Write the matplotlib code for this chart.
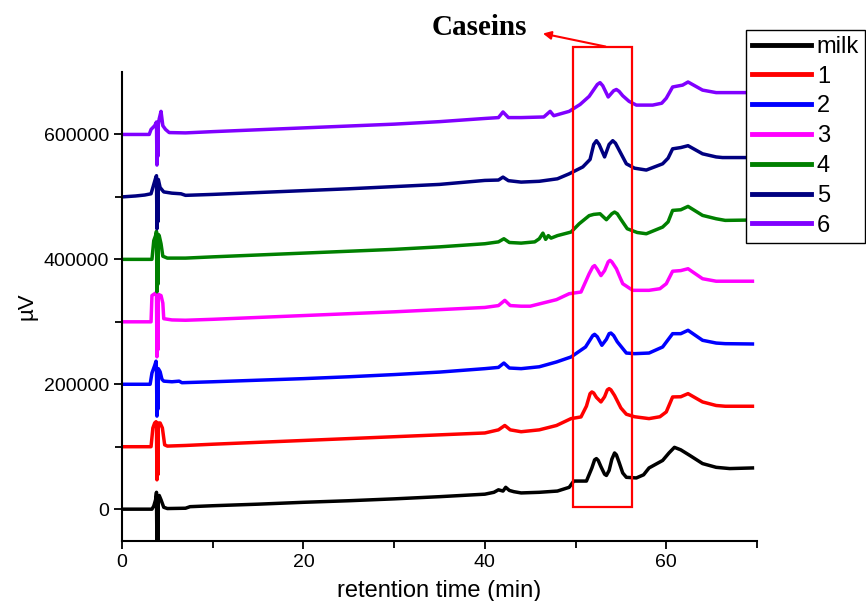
import numpy as np
import matplotlib
matplotlib.use('Agg')
import matplotlib.pyplot as plt
from matplotlib.patches import Rectangle

plt.rcParams['font.family'] = ['Liberation Sans', 'DejaVu Sans']

# chromatogram traces as (retention time [min], signal [uV]),
# signal is relative to each trace's own baseline offset
labels = ['milk', '1', '2', '3', '4', '5', '6']
offsets = [0, 100000, 200000, 300000, 400000, 500000, 600000]
colors = ['#000000', '#ff0000', '#0000ff', '#ff00ff', '#008000', '#000080', '#8000ff']

milk = [(0, 0), (3.3, 0), (3.5, 5000), (3.7, 15000), (3.8, 27000), (3.85, -70000), (3.9, 20000),
        (3.95, -60000), (4.0, 12000), (4.1, 22000), (4.3, 15000), (4.6, 3000), (5, 1000), (7, 1500),
        (7.5, 4000), (10, 5500), (15, 8000), (20, 11000), (25, 13500), (30, 16500), (35, 20000),
        (40, 24000), (41, 27000), (41.5, 31000), (42, 29000), (42.3, 35000), (42.7, 30000),
        (43.2, 28000), (44, 26000), (46, 27000), (48, 29000), (49.3, 35000), (49.8, 45000),
        (51.2, 45000), (51.8, 66000), (52.1, 79000), (52.3, 81000), (52.5, 78000), (52.8, 68000),
        (53.2, 56000), (53.4, 54000), (53.7, 62000), (54.0, 80000), (54.3, 90000), (54.5, 87000),
        (54.8, 75000), (55.2, 58000), (55.6, 51000), (56.7, 50000), (57.5, 55000), (58.1, 66000),
        (59.6, 78000), (60.3, 90000), (60.9, 99000), (61.6, 95000), (62.6, 86000), (64.0, 73000),
        (65.5, 67000), (67, 65000), (69.5, 66000)]

s1 = [(0, 0), (3.2, 0), (3.4, 30000), (3.6, 38000), (3.75, 40000), (3.8, 32000), (3.85, -53000),
      (3.9, 30000), (3.95, -45000), (4.0, 38000), (4.2, 38000), (4.45, 30000), (4.7, 3000), (5, 1000),
      (7, 2000), (10, 4000), (15, 7000), (20, 10000), (25, 13000), (30, 16000), (35, 19000),
      (40, 22000), (41.5, 27000), (42.2, 34000), (42.8, 27000), (44, 24000), (46, 27000),
      (47.9, 34000), (49.5, 45000), (50.6, 47700), (51.2, 65000), (51.6, 85000), (51.8, 87700),
      (52.0, 86000), (52.3, 79000), (52.8, 71700), (53.2, 80000), (53.5, 91000), (53.7, 93000),
      (53.9, 91000), (54.3, 82000), (55.0, 62000), (55.6, 52000), (56.5, 48000), (58.1, 45000),
      (59.3, 48000), (60.0, 55700), (60.7, 79700), (61.6, 80000), (62.4, 85000), (64.0, 71700),
      (65.5, 66000), (66.5, 64800), (69.5, 64800)]

s2 = [(0, 0), (3.1, 0), (3.3, 18000), (3.6, 30000), (3.75, 37000), (3.8, 25000), (3.85, -51000),
      (3.9, 20000), (3.95, -40000), (4.0, 25000), (4.2, 20000), (4.4, 8000), (4.6, 5000), (5.5, 4000),
      (6.3, 5000), (6.6, 2500), (10, 4000), (15, 6500), (20, 9000), (25, 12000), (30, 15500),
      (35, 19500), (40, 25000), (41.5, 27000), (42.1, 34000), (42.7, 26000), (44, 25000),
      (46, 28000), (47.9, 35700), (49.5, 43700), (51.1, 59700), (51.9, 78000), (52.1, 80000),
      (52.4, 76000), (52.9, 62400), (53.4, 72000), (53.7, 81000), (53.9, 82000), (54.2, 78000),
      (54.6, 68000), (55.6, 50000), (56.5, 49000), (58.1, 50000), (59.6, 59700), (60.7, 81000),
      (61.6, 81000), (62.4, 86400), (64, 70400), (65.5, 66000), (66.5, 65000), (69.5, 64500)]

s3 = [(0, 0), (3.2, 0), (3.3, 42000), (3.7, 46000), (3.8, 44000), (3.85, -56000), (3.9, 40000),
      (3.95, -45000), (4.0, 44000), (4.3, 42000), (4.5, 30000), (4.6, 5000), (5.5, 3000), (7, 2500),
      (10, 4000), (15, 7000), (20, 10000), (25, 13000), (30, 16000), (35, 19500), (40, 23000),
      (41.5, 26000), (42.2, 34400), (42.8, 26000), (44, 25000), (45, 25000), (47.9, 35500),
      (49.3, 45000), (50.6, 47700), (51.5, 77000), (51.9, 88000), (52.1, 90000), (52.4, 84000),
      (52.8, 74000), (53.2, 82000), (53.6, 96000), (53.8, 98400), (54.0, 96000), (54.5, 85000),
      (55.2, 61000), (56.3, 50400), (58.1, 50400), (59.3, 53000), (60.0, 61000), (60.7, 81000),
      (61.6, 82000), (62.4, 85000), (64, 69000), (65.5, 65000), (66.5, 65000), (69.5, 65000)]

s4 = [(0, 0), (3.3, 0), (3.5, 30000), (3.7, 38000), (3.8, 45000), (3.85, -52000), (3.9, 35000),
      (3.95, -40000), (4.0, 40000), (4.1, 38000), (4.3, 25000), (4.5, 5000), (5, 2000), (7, 2000),
      (10, 4000), (15, 7000), (20, 10000), (25, 13000), (30, 16000), (35, 20000), (40, 25000),
      (41.5, 28000), (42.1, 33000), (42.7, 27000), (44, 26000), (45.5, 28000), (46.0, 33000),
      (46.4, 42000), (46.7, 32000), (47.0, 38000), (47.3, 34000), (48, 38000), (49.5, 43700),
      (50.4, 57000), (51.5, 70000), (52.0, 72000), (52.7, 73000), (53.4, 63500), (54.0, 73000),
      (54.3, 75700), (54.6, 73000), (55.0, 64000), (55.7, 49000), (56.8, 43000), (57.8, 41000),
      (59.6, 51700), (60.2, 60000), (60.7, 78400), (61.6, 79400), (62.4, 84800), (64, 70400),
      (65.5, 65000), (66.5, 62400), (69.5, 63000)]

s5 = [(0, 0), (1.5, 1500), (2.5, 3000), (3.2, 5000), (3.5, 20000), (3.7, 30000), (3.8, 34000),
      (3.85, -51000), (3.9, 25000), (3.95, -40000), (4.0, 28000), (4.2, 15000), (4.6, 8000),
      (5.5, 6000), (6.5, 5000), (7, 2500), (10, 4000), (15, 7000), (20, 10000), (25, 13000),
      (30, 16500), (35, 20000), (40, 26400), (41.5, 27000), (42.0, 31700), (42.6, 26000),
      (44, 23700), (46, 25000), (48, 29000), (49.3, 37000), (50.8, 48000), (51.6, 60000),
      (52.0, 84000), (52.3, 90000), (52.6, 84000), (53.2, 64000), (53.7, 84000), (54.1, 90000),
      (54.4, 86000), (54.8, 75000), (55.6, 53000), (56.5, 46000), (57.8, 43000), (59.6, 53000),
      (60.2, 62000), (60.7, 77000), (61.6, 79000), (62.4, 82000), (64, 69000), (65.5, 64000),
      (66.2, 63000), (69.5, 63000)]

s6 = [(0, 0), (3.0, 0), (3.2, 8000), (3.6, 14000), (3.8, 20000), (3.85, -49000), (3.9, 15000),
      (3.95, -35000), (4.0, 15000), (4.1, 25000), (4.3, 37000), (4.5, 14000), (4.8, 8000),
      (5.2, 3000), (7, 2500), (10, 4500), (15, 7500), (20, 10500), (25, 13500), (30, 16500),
      (35, 20500), (40, 25600), (41.5, 27000), (42.0, 36000), (42.6, 27000), (44, 27000),
      (46.5, 28000), (47.2, 37000), (47.6, 30000), (49.3, 37000), (50.5, 48000), (51.5, 61000),
      (52.4, 80000), (52.7, 83000), (53.0, 78000), (53.6, 60000), (54.2, 70000), (54.5, 72000),
      (54.8, 69000), (55.2, 62000), (55.9, 53000), (56.7, 47000), (58.5, 47000), (59.5, 50000),
      (60.0, 58000), (60.7, 76000), (61.8, 79000), (62.4, 84000), (64, 71000), (65.5, 67000),
      (66.5, 67000), (69.5, 67000)]

traces = [milk, s1, s2, s3, s4, s5, s6]

fig = plt.figure(figsize=(8.66, 6.01), dpi=100)
ax = fig.add_axes([0.1409, 0.0998, 0.7332, 0.7804])

for pts, off, col, lab in zip(traces, offsets, colors, labels):
    arr = np.array(pts, dtype=float)
    ax.plot(arr[:, 0], arr[:, 1] + off, color=col, lw=2.5, label=lab)

ax.set_xlim(0, 70)
ax.set_ylim(-51000, 700000)
ax.set_xticks([0, 20, 40, 60])
ax.set_xticks([10, 30, 50, 70], minor=True)
ax.set_yticks([0, 200000, 400000, 600000])
ax.set_yticks([100000, 300000, 500000], minor=True)
ax.tick_params(which='major', direction='out', length=6, width=1.3, labelsize=14)
ax.tick_params(which='minor', direction='out', length=5, width=1.3)
ax.spines['top'].set_visible(False)
ax.spines['right'].set_visible(False)
for sp in ['left', 'bottom']:
    ax.spines[sp].set_linewidth(1.5)

ax.set_xlabel('retention time (min)', fontsize=17, labelpad=6)
ax.set_ylabel('µV', fontsize=16, labelpad=4)

# caseins box and label
ax.add_patch(Rectangle((49.7, 3200), 56.26 - 49.7, 740800 - 3200, fill=False,
                       edgecolor='red', lw=1.6, clip_on=False, zorder=5))
ax.text(39.4, 771000, 'Caseins', fontsize=21, fontweight='bold', family='Liberation Serif',
        ha='center', va='center')
ax.annotate('', xy=(46.4, 761600), xytext=(53.3, 740800), annotation_clip=False,
            arrowprops=dict(arrowstyle='-|>', color='red', lw=1.5, mutation_scale=12,
                            shrinkA=0, shrinkB=0))

leg = fig.legend(loc='upper left', bbox_to_anchor=(746 / 866, 1 - 30 / 601), fontsize=17,
                 frameon=True, fancybox=False, edgecolor='black', framealpha=1,
                 handlelength=2.5, handletextpad=0.25, labelspacing=0.33, borderpad=0.25,
                 borderaxespad=0)
leg.get_frame().set_linewidth(1.0)
for line in leg.get_lines():
    line.set_linewidth(3.5)

fig.savefig('out.png', dpi=100)
